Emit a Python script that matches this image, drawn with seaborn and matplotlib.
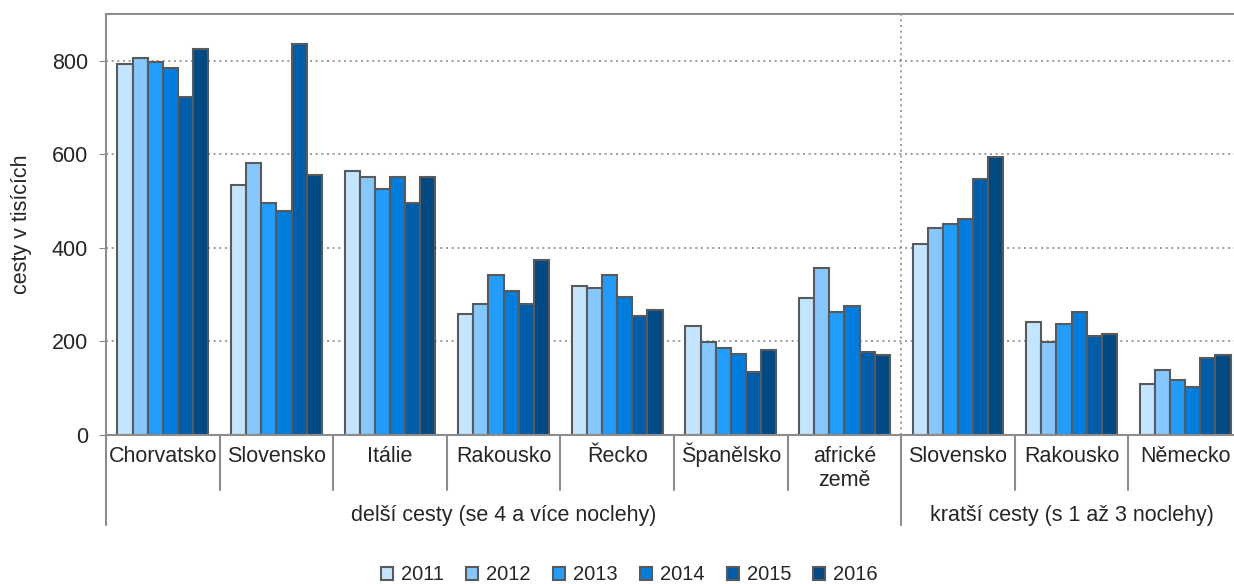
import matplotlib
matplotlib.use("Agg")
import matplotlib.pyplot as plt
import matplotlib.transforms as mtransforms
from matplotlib.lines import Line2D
import seaborn as sns
import pandas as pd

# data (thousands of trips)
categories = ["Chorvatsko", "Slovensko", "Itálie", "Rakousko", "Řecko",
              "Španělsko", "africké\nzemě", "Slovensko", "Rakousko", "Německo"]
groups = ["delší cesty (se 4 a více noclehy)", "kratší cesty (s 1 až 3 noclehy)"]
group_sizes = [7, 3]
years = ["2011", "2012", "2013", "2014", "2015", "2016"]

v2011 = [793, 535, 565, 259, 319, 233, 293, 409, 242, 108]
v2012 = [805, 582, 552, 281, 315, 198, 357, 443, 199, 139]
v2013 = [797, 496, 525, 341, 341, 185, 263, 452, 237, 117]
v2014 = [784, 478, 552, 307, 294, 173, 276, 461, 263, 103]
v2015 = [723, 836, 496, 280, 255, 134, 177, 547, 211, 165]
v2016 = [826, 556, 551, 375, 267, 181, 172, 595, 216, 172]

colors = ["#C4E5FF", "#85C8FF", "#219DFF", "#007EDF", "#005DA9", "#004B86"]

series = [v2011, v2012, v2013, v2014, v2015, v2016]
cat_ids = [f"{i}_{c}" for i, c in enumerate(categories)]
rows = []
for y, vals in zip(years, series):
    for cid, v in zip(cat_ids, vals):
        rows.append({"cat": cid, "year": y, "value": v})
df = pd.DataFrame(rows)

sns.set_style("white")
plt.rcParams["font.family"] = ["Liberation Sans", "DejaVu Sans"]

fig = plt.figure(figsize=(12.34, 5.84), dpi=100)
ax = fig.add_axes([106 / 1234, 1 - 435 / 584, 1136 / 1234, 421 / 584])

sns.barplot(data=df, x="cat", y="value", hue="year", order=cat_ids,
            hue_order=years, palette=colors, saturation=1,
            edgecolor="#5a5a5a", linewidth=1.5, width=0.8, ax=ax)

ax.set_ylim(0, 900)
ax.set_xlim(-0.5, len(categories) - 0.5)
ax.set_yticks([0, 200, 400, 600, 800])
ax.tick_params(axis="y", labelsize=15.5, length=5, color="#888888",
               direction="out", left=True, pad=8)
ax.set_xticks([])
ax.set_xlabel("")
ax.set_ylabel("cesty v tisících", fontsize=15.5, labelpad=14)
for y in [200, 400, 600, 800]:
    ax.axhline(y, color="#8c8c8c", linestyle=(0, (1.2, 2.2)), linewidth=1.2, zorder=0)
for s in ["left", "bottom", "top", "right"]:
    ax.spines[s].set_color("#8c8c8c")
    ax.spines[s].set_linewidth(1.5)

# separator between the two trip groups
sep = group_sizes[0] - 0.5
ax.axvline(sep, color="#8c8c8c", linestyle=(0, (1.2, 2.2)), linewidth=1.2, zorder=0)

# hierarchical category axis
trans = mtransforms.blended_transform_factory(ax.transData, fig.transFigure)
y_axis = 1 - 435 / 584
y_tick = 1 - 490 / 584
y_group = 1 - 525 / 584
for i in range(len(categories) - 1):
    x = i + 0.5
    if x == sep:
        continue
    fig.add_artist(Line2D([x, x], [y_axis, y_tick], transform=trans,
                          color="#8c8c8c", linewidth=1.5))
for x in [-0.5, sep]:
    fig.add_artist(Line2D([x, x], [y_axis, y_group], transform=trans,
                          color="#8c8c8c", linewidth=1.5))

for i, c in enumerate(categories):
    for k, line in enumerate(c.split("\n")):
        fig.text(i, 1 - (462 + 24 * k) / 584, line, transform=trans,
                 ha="center", va="baseline", fontsize=15.5)

start = 0
for g, n in zip(groups, group_sizes):
    center = start + (n - 1) / 2
    fig.text(center, 1 - 515 / 584, g, transform=trans, ha="center",
             va="center", fontsize=15.5)
    start += n

handles, labels = ax.get_legend_handles_labels()
ax.get_legend().remove()
fig.legend(handles, labels, loc="center", bbox_to_anchor=(0.51, 1 - 575 / 584),
           ncol=6, frameon=False, fontsize=14.5, handlelength=0.6,
           handleheight=0.6, handletextpad=0.4, columnspacing=1.1)

fig.savefig("out.png", dpi=100)
